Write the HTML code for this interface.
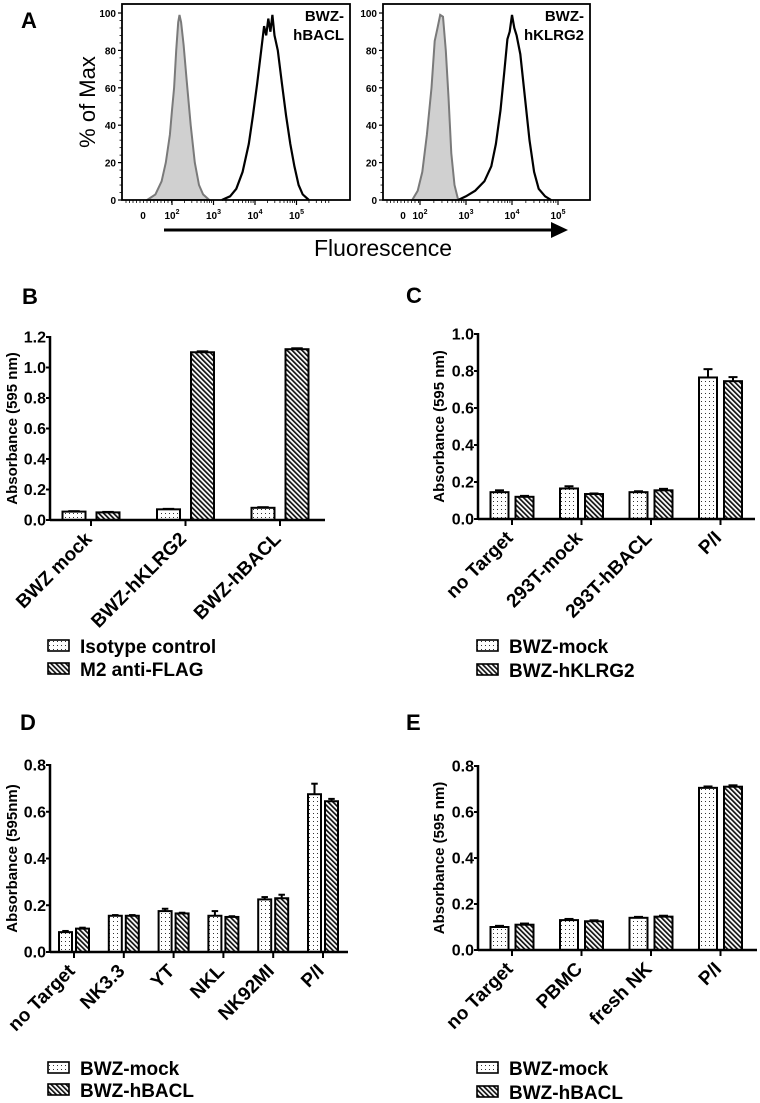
<!DOCTYPE html>
<html><head><meta charset="utf-8"><style>
html,body{margin:0;padding:0;background:#fff}
svg{display:block;font-family:"Liberation Sans",Arial,sans-serif}
</style></head><body>
<svg id="fig" width="760" height="1103" viewBox="0 0 760 1103" xmlns="http://www.w3.org/2000/svg">
<defs>
<pattern id="dots" width="4" height="4" patternUnits="userSpaceOnUse"><rect width="4" height="4" fill="#fff"/><rect x="1" y="1" width="1" height="1" fill="#333"/></pattern>
<pattern id="hatch" width="3.5" height="3.5" patternUnits="userSpaceOnUse" patternTransform="rotate(-45)"><rect width="3.5" height="3.5" fill="#fff"/><rect x="0" y="0" width="1.7" height="3.5" fill="#111"/></pattern>
</defs>
<g id="panelA"></g>
<g id="panelB"></g>
<g id="panelC"></g>
<g id="panelD"></g>
<g id="panelE"></g>
</svg>
<script>
// ---------- Panel A data (log10 fluorescence, % of max) ----------
const h1GrayLog=[1.4,1.6,1.75,1.85,1.95,2.0,2.05,2.1,2.15,2.18,2.22,2.28,2.35,2.45,2.55,2.65,2.75,2.9];
const h1GrayPct=[0,3,10,20,35,48,60,80,95,99,95,83,65,40,20,8,3,0];
const h1BlackLog=[3.2,3.4,3.55,3.7,3.85,3.95,4.05,4.15,4.22,4.27,4.32,4.37,4.42,4.47,4.55,4.65,4.75,4.85,4.95,5.05,5.15,5.3];
const h1BlackPct=[0,2,6,15,30,45,62,80,93,88,97,90,99,88,80,62,45,30,18,8,3,0];
const h2GrayLog=[1.83,1.95,2.05,2.15,2.25,2.32,2.38,2.44,2.5,2.56,2.62,2.68,2.75,2.83];
const h2GrayPct=[0,5,15,35,60,85,92,99,98,80,55,25,8,0];
const h2BlackLog=[2.83,3.0,3.2,3.4,3.55,3.65,3.75,3.83,3.9,3.95,4.0,4.05,4.1,4.18,4.28,4.38,4.48,4.58,4.72,4.85];
const h2BlackPct=[0,2,5,10,18,30,48,68,86,90,99,92,88,78,55,32,15,6,2,0];
const histYTicks=[0,20,40,60,80,100];
const histXLabels=[["0",null],["10","2"],["10","3"],["10","4"],["10","5"]];

// ---------- Panel B ----------
const bCats=["BWZ mock","BWZ-hKLRG2","BWZ-hBACL"];
const bIso=[0.055,0.07,0.08];
const bIsoErr=[0.003,0.003,0.004];
const bM2=[0.05,1.10,1.12];
const bM2Err=[0.003,0.006,0.006];
const bTicks=[0,0.2,0.4,0.6,0.8,1.0,1.2];
// ---------- Panel C ----------
const cCats=["no Target","293T-mock","293T-hBACL","P/I"];
const cMock=[0.145,0.165,0.145,0.765];
const cMockErr=[0.01,0.012,0.005,0.045];
const cKlrg=[0.12,0.135,0.155,0.745];
const cKlrgErr=[0.005,0.003,0.008,0.022];
const cTicks=[0,0.2,0.4,0.6,0.8,1.0];
// ---------- Panel D ----------
const dCats=["no Target","NK3.3","YT","NKL","NK92MI","P/I"];
const dMock=[0.085,0.155,0.175,0.155,0.225,0.675];
const dMockErr=[0.005,0.003,0.01,0.02,0.01,0.045];
const dBacl=[0.10,0.155,0.165,0.15,0.23,0.645];
const dBaclErr=[0.004,0.003,0.003,0.003,0.015,0.01];
const dTicks=[0,0.2,0.4,0.6,0.8];
// ---------- Panel E ----------
const eCats=["no Target","PBMC","fresh NK","P/I"];
const eMock=[0.10,0.13,0.14,0.705];
const eMockErr=[0.005,0.005,0.004,0.006];
const eBacl=[0.11,0.125,0.145,0.71];
const eBaclErr=[0.005,0.004,0.004,0.006];
const eTicks=[0,0.2,0.4,0.6,0.8];

const NS="http://www.w3.org/2000/svg";
function mk(parent,tag,attrs,text){const e=document.createElementNS(NS,tag);for(const k in attrs)e.setAttribute(k,attrs[k]);if(text!==undefined)e.textContent=text;parent.appendChild(e);return e;}

// ---------- Panel A drawing ----------
(function(){
const g=document.getElementById('panelA');
const lbl=mk(g,'text',{x:21,y:28,'font-size':22,'font-weight':'bold'},'A');


const yt=mk(g,'text',{transform:'translate(95,102) rotate(-90)','font-size':22,'text-anchor':'middle'},'% of Max');


const boxes=[
 {l:122,r:350,d2:172,dec:41.5,z:143,gray:[h1GrayLog,h1GrayPct],black:[h1BlackLog,h1BlackPct],t1:'BWZ-',t2:'hBACL',name:'histogram-bwz-hbacl'},
 {l:383,r:590,d2:420,dec:46,z:403,gray:[h2GrayLog,h2GrayPct],black:[h2BlackLog,h2BlackPct],t1:'BWZ-',t2:'hKLRG2',name:'histogram-bwz-hklrg2'}];
const top=4,bot=200;
const yS=p=>bot-p*1.87;
boxes.forEach(b=>{
 const bg=mk(g,'g',{});
 
 
 const xS=l=>b.d2+(l-2)*b.dec;
 const gp=b.gray[0].map((l,i)=>xS(l).toFixed(1)+','+yS(b.gray[1][i]).toFixed(1)).join(' ');
 const gr=mk(bg,'polygon',{points:gp,fill:'#d0d0d0',stroke:'#7a7a7a','stroke-width':2});
 
 
 const bp=b.black[0].map((l,i)=>xS(l).toFixed(1)+','+yS(b.black[1][i]).toFixed(1)).join(' ');
 const bl=mk(bg,'polyline',{points:bp,fill:'none',stroke:'#000','stroke-width':2.2});
 
 
 mk(bg,'rect',{x:b.l,y:top,width:b.r-b.l,height:bot-top,fill:'none',stroke:'#000','stroke-width':1.8});
 histYTicks.forEach(v=>{
  const y=yS(v);
  mk(bg,'line',{x1:b.l-4,x2:b.l,y1:y,y2:y,stroke:'#000','stroke-width':1.2});
  const t=mk(bg,'text',{x:b.l-6,y:y+4,'font-size':10,'text-anchor':'end','font-weight':'bold'},String(v));
  
  
 });
 for(let v=0;v<100;v+=4){if(v%20)mk(bg,'line',{x1:b.l-2.5,x2:b.l,y1:yS(v),y2:yS(v),stroke:'#000','stroke-width':0.8});}
 for(let d=2;d<=5;d++){for(let m=1;m<10;m++){const x=xS(d+Math.log10(m));if(x>b.r-20)continue;mk(bg,'line',{x1:x,x2:x,y1:bot,y2:bot+(m===1?5:3),stroke:'#000','stroke-width':m===1?1.2:0.8});}}
 for(let x=b.l+4;x<b.d2;x+=3.5){mk(bg,'line',{x1:x,x2:x,y1:bot,y2:bot+3,stroke:'#000','stroke-width':0.8});}
 histXLabels.forEach((L,i)=>{
  const x=i===0?b.z:xS(i+1);
  const t=mk(bg,'text',{x:x,y:219,'font-size':10,'text-anchor':'middle','font-weight':'bold'},'');
  
  
  mk(t,'tspan',{},L[0]);
  if(L[1]){mk(t,'tspan',{dy:-5,'font-size':7},L[1]);}
 });
 const a=mk(bg,'text',{x:b.r-6,y:21,'font-size':15,'font-weight':'bold','text-anchor':'end'},b.t1);
 
 
 mk(bg,'text',{x:b.r-6,y:40,'font-size':15,'font-weight':'bold','text-anchor':'end'},b.t2);
});
const ar=mk(g,'g',{});


mk(ar,'line',{x1:164,x2:553,y1:230,y2:230,stroke:'#000','stroke-width':3});
mk(ar,'polygon',{points:'551,222 568,230 551,238',fill:'#000'});
const ft=mk(g,'text',{x:383,y:256,'font-size':23,'text-anchor':'middle'},'Fluorescence');


})();

// ---------- Bar chart helper ----------
function barChart(cfg){
 const g=document.getElementById(cfg.id);
 const L=mk(g,'text',{x:cfg.lx,y:cfg.ly,'font-size':22,'font-weight':'bold'},cfg.letter);
 
 
 const yS=v=>cfg.y0-(v/cfg.ymax)*(cfg.y0-cfg.yTop);
 const xS=i=>cfg.c0+i*cfg.step;
 cfg.series.forEach((s,si)=>{
  const sg=mk(g,'g',{});
  
  
  s.vals.forEach((v,i)=>{
   const cx=xS(i)+(si===0?-cfg.off:cfg.off);
   const x=cx-cfg.bw/2, y=yS(v);
   const ey=yS(v+s.err[i]);
   mk(sg,'line',{x1:cx,x2:cx,y1:y,y2:ey,stroke:'#000','stroke-width':2});
   mk(sg,'line',{x1:cx-cfg.bw/4,x2:cx+cfg.bw/4,y1:ey,y2:ey,stroke:'#000','stroke-width':2});
   const r=mk(sg,'rect',{x:x,y:y,width:cfg.bw,height:cfg.y0-y,fill:s.fill,stroke:'#000','stroke-width':2});
   
   
  });
 });
 mk(g,'line',{x1:cfg.ax,x2:cfg.ax,y1:cfg.yTop-1,y2:cfg.y0+1,stroke:'#000','stroke-width':2.5});
 mk(g,'line',{x1:cfg.ax,x2:cfg.xEnd,y1:cfg.y0,y2:cfg.y0,stroke:'#000','stroke-width':2.5});
 cfg.ticks.forEach(v=>{
  const y=yS(v);
  mk(g,'line',{x1:cfg.ax-4,x2:cfg.ax,y1:y,y2:y,stroke:'#000','stroke-width':2});
  const t=mk(g,'text',{x:cfg.ax-4,y:y+5.5,'font-size':16,'font-weight':'bold','text-anchor':'end'},v.toFixed(1));
  
  
 });
 const yt=mk(g,'text',{transform:`translate(${cfg.ytx},${(cfg.y0+cfg.yTop)/2}) rotate(-90)`,'font-size':cfg.ytSize||15,'font-weight':'bold','text-anchor':'middle'},cfg.ytitle);
 
 
 cfg.cats.forEach((c,i)=>{
  const x=xS(i);
  mk(g,'line',{x1:x,x2:x,y1:cfg.y0,y2:cfg.y0+6,stroke:'#000','stroke-width':2});
  const t=mk(g,'text',{transform:`translate(${x+2},${cfg.y0+20}) rotate(-45)`,'font-size':cfg.catSize||19,'font-weight':'bold','text-anchor':'end'},c);
  
  
 });
 cfg.series.forEach((s,si)=>{
  const y=cfg.legY+si*cfg.legGap;
  const lg=mk(g,'g',{});
  
  
  mk(lg,'rect',{x:cfg.legX,y:y-6,width:21,height:11,fill:s.fill,stroke:'#000','stroke-width':1.6});
  mk(lg,'text',{x:cfg.legX+32,y:y+7,'font-size':19,'font-weight':'bold'},s.label);
 });
}

barChart({id:'panelB',letter:'B',lx:22,ly:304,ax:50,xEnd:325,y0:520,yTop:337,ymax:1.2,ticks:bTicks,
 c0:91,step:94.5,off:17,bw:23,cats:bCats,ytx:17,ytitle:'Absorbance (595 nm)',
 series:[{key:'isotype-control',label:'Isotype control',vals:bIso,err:bIsoErr,fill:'url(#dots)'},
         {key:'m2-anti-flag',label:'M2 anti-FLAG',vals:bM2,err:bM2Err,fill:'url(#hatch)'}],
 legX:48,legY:646,legGap:23});
barChart({id:'panelC',letter:'C',lx:406,ly:303,ax:478,xEnd:755,y0:519,yTop:334,ymax:1.0,ticks:cTicks,
 c0:512,step:69.5,off:12.5,bw:18,cats:cCats,ytx:444,ytitle:'Absorbance (595 nm)',
 series:[{key:'bwz-mock',label:'BWZ-mock',vals:cMock,err:cMockErr,fill:'url(#dots)'},
         {key:'bwz-hklrg2',label:'BWZ-hKLRG2',vals:cKlrg,err:cKlrgErr,fill:'url(#hatch)'}],
 legX:477,legY:646,legGap:24});
barChart({id:'panelD',letter:'D',lx:20,ly:730,ax:50,xEnd:348,y0:952,yTop:765,ymax:0.8,ticks:dTicks,
 c0:74,step:49.8,off:8.5,bw:13,cats:dCats,ytx:17,ytitle:'Absorbance (595nm)',
 series:[{key:'bwz-mock',label:'BWZ-mock',vals:dMock,err:dMockErr,fill:'url(#dots)'},
         {key:'bwz-hbacl',label:'BWZ-hBACL',vals:dBacl,err:dBaclErr,fill:'url(#hatch)'}],
 legX:48,legY:1068,legGap:22});
barChart({id:'panelE',letter:'E',lx:406,ly:730,ax:478,xEnd:757,y0:950,yTop:766,ymax:0.8,ticks:eTicks,
 c0:512,step:69.5,off:12.5,bw:18,cats:eCats,ytx:444,ytitle:'Absorbance (595 nm)',
 series:[{key:'bwz-mock',label:'BWZ-mock',vals:eMock,err:eMockErr,fill:'url(#dots)'},
         {key:'bwz-hbacl',label:'BWZ-hBACL',vals:eBacl,err:eBaclErr,fill:'url(#hatch)'}],
 legX:477,legY:1068,legGap:24});
</script>
</body></html>
